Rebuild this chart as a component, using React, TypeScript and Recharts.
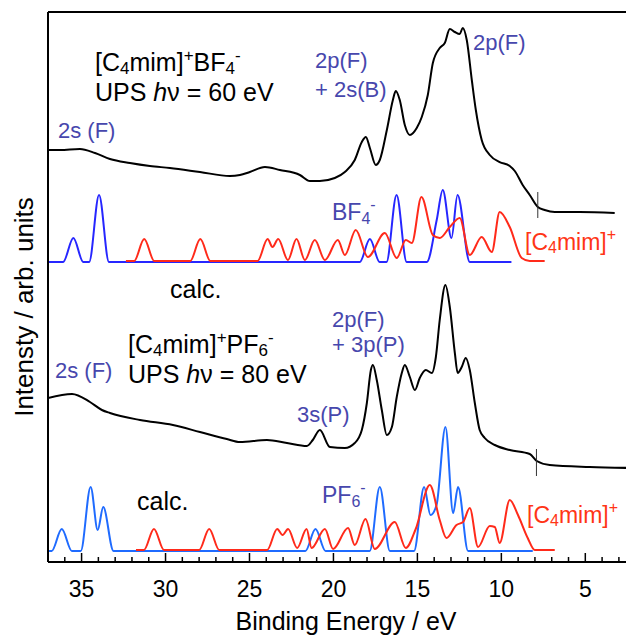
import React from 'react';
import { ComposedChart, Line, XAxis, YAxis, ReferenceLine } from 'recharts';

// [binding energy (eV), intensity (arb.)]
const bf4Exp = [
  [37.0, 412], [36.29, 412], [35.1, 413], [34.2, 409], [33.31, 403], [32.12, 399], [30.93, 396],
  [29.74, 394], [27.95, 390], [26.17, 386], [25.57, 387], [24.98, 390], [24.08, 395], [23.19, 392],
  [22.0, 387], [21.4, 381], [20.81, 381], [19.92, 384], [19.32, 390], [18.73, 402], [18.31, 420],
  [18.07, 425], [17.83, 414], [17.48, 397], [17.24, 402], [16.82, 432], [16.46, 462], [16.29, 471],
  [16.05, 462], [15.75, 437], [15.45, 427], [15.04, 434], [14.74, 445], [14.38, 467], [14.08, 499],
  [13.67, 514], [13.37, 519], [13.07, 533], [12.77, 530], [12.48, 528], [12.3, 534], [12.06, 522],
  [11.76, 482], [11.52, 452], [11.17, 422], [10.69, 407], [10.1, 400], [9.5, 396], [9.2, 391],
  [8.73, 377], [8.31, 367], [7.83, 355], [7.42, 352], [6.82, 350], [5.33, 350], [3.25, 349],
];

const bf4Anion = [
  [37.0, 300], [36.1, 300], [35.49, 324], [34.9, 300], [34.55, 300], [33.96, 367], [33.37, 300],
  [18.43, 300], [17.83, 323], [17.25, 300], [16.84, 300], [16.24, 367], [15.64, 300], [14.44, 300],
  [13.85, 342], [13.49, 372], [12.97, 324], [12.61, 367], [11.88, 300], [9.4, 300],
];

const bf4Cation = [
  [32.36, 301], [31.87, 301], [31.27, 323], [30.67, 301], [28.53, 301], [27.93, 323], [27.33, 301],
  [24.52, 301], [23.92, 323], [23.63, 315], [23.29, 323], [22.71, 302], [22.2, 323], [21.7, 302],
  [21.11, 322], [20.51, 302], [19.74, 322], [19.32, 307], [18.67, 332], [17.95, 305], [16.94, 329],
  [16.23, 304], [15.69, 322], [15.33, 319], [14.76, 365], [14.08, 327], [13.67, 324], [13.07, 335],
  [12.48, 344], [11.88, 307], [11.17, 325], [10.57, 310], [10.1, 350], [9.5, 335], [8.79, 304],
  [8.31, 301], [7.42, 301],
];

const pf6Exp = [
  [37.0, 164], [35.57, 168], [34.5, 160], [33.79, 152], [33.31, 149], [31.52, 142], [29.56, 137],
  [27.95, 130], [26.35, 123], [25.57, 120], [23.96, 122], [22.77, 119], [21.58, 116], [21.23, 122],
  [20.81, 132], [20.21, 115], [19.32, 114], [18.73, 119], [18.31, 132], [18.01, 159], [17.77, 192],
  [17.65, 197], [17.42, 182], [17.12, 152], [16.82, 127], [16.52, 135], [16.23, 165], [15.93, 189],
  [15.75, 197], [15.45, 185], [15.15, 172], [14.86, 184], [14.5, 192], [14.14, 189], [13.9, 205],
  [13.67, 242], [13.33, 277], [13.07, 255], [12.77, 209], [12.6, 189], [12.36, 195], [12.12, 204],
  [11.88, 192], [11.58, 159], [11.29, 132], [10.99, 124], [10.39, 117], [9.5, 112], [8.31, 108],
  [7.89, 101], [7.12, 97], [4.74, 95], [2.12, 94],
];

const pf6Anion = [
  [37.0, 11], [36.78, 11], [36.18, 33], [35.58, 11], [35.05, 11], [34.46, 75], [34.04, 32],
  [33.71, 55], [33.1, 11], [21.67, 11], [21.07, 33], [20.47, 11], [17.84, 11], [17.24, 75],
  [16.64, 11], [15.2, 11], [14.6, 75], [14.22, 47], [13.86, 57], [13.33, 135], [12.87, 49],
  [12.58, 75], [11.98, 11], [8.13, 11],
];

const pf6Cation = [
  [31.76, 12], [31.29, 12], [30.69, 33], [30.09, 12], [28.0, 12], [27.4, 33], [26.8, 12],
  [23.95, 12], [23.35, 33], [23.03, 27], [22.7, 33], [22.16, 14], [21.6, 33], [21.3, 14],
  [20.51, 33], [20.02, 13], [19.13, 34], [18.73, 17], [18.09, 43], [17.54, 13], [16.35, 40],
  [15.69, 14], [15.1, 33], [14.26, 77], [13.67, 42], [13.27, 24], [12.67, 37], [12.28, 40],
  [11.88, 54], [11.39, 15], [10.69, 36], [10.39, 35], [10.1, 19], [9.5, 62], [9.01, 47],
  [8.43, 24], [8.01, 12], [6.82, 12],
];

const energyTicks = [36, 35, 34, 33, 32, 31, 30, 29, 28, 27, 26, 25, 24, 23, 22, 21, 20, 19, 18,
  17, 16, 15, 14, 13, 12, 11, 10, 9, 8, 7, 6, 5, 4, 3];

const toPoints = (rows: number[][]) => rows.map(([e, v]) => ({ e, v }));

const W = 626;
const H = 629;
const FONT = '"Liberation Sans", Arial, sans-serif';
const LABEL_BLUE = '#4747ad';
const LABEL_RED = '#ff3516';

const EnergyTick = (props: any) => {
  const { x, y, payload } = props;
  const major = payload.value % 5 === 0;
  return (
    <g>
      <line x1={x} x2={x} y1={y} y2={y - (major ? 9 : 5)} stroke="#000" strokeWidth={1.5} />
      {major && (
        <text x={x} y={y + 35} textAnchor="middle" fontSize={23} fontFamily={FONT} fill="#000">
          {payload.value}
        </text>
      )}
    </g>
  );
};

// "[C4mim]+" with optional anion, e.g. BF4- / PF6-
const Ion = ({ x, y, size, fill, anion, n }: {
  x: number; y: number; size: number; fill: string; anion?: string; n?: string;
}) => {
  const s = Math.round(size * 0.68);
  return (
    <text x={x} y={y} fontSize={size} fill={fill}>
      [C<tspan fontSize={s} dy={3}>4</tspan><tspan dy={-3}>mim]</tspan>
      <tspan fontSize={s} dy={-10}>+</tspan>
      {anion && (
        <>
          <tspan dy={10}>{anion}</tspan>
          <tspan fontSize={s} dy={3}>{n}</tspan>
          <tspan fontSize={s} dy={-13}>-</tspan>
        </>
      )}
    </text>
  );
};

const Anion = ({ x, y, name, n }: { x: number; y: number; name: string; n: string }) => (
  <text x={x} y={y} fontSize={23} fill={LABEL_BLUE}>
    {name}<tspan fontSize={16} dy={4}>{n}</tspan><tspan fontSize={16} dy={-14}>-</tspan>
  </text>
);

const Annotations = () => (
  <svg width={W} height={H} style={{ position: 'absolute', left: 0, top: 0, pointerEvents: 'none' }}
    fontFamily={FONT}>
    {/* BF4 panel */}
    <Ion x={87} y={63} size={25} fill="#000" anion="BF" n="4" />
    <text x={87} y={93} fontSize={25} fill="#000">
      UPS <tspan fontStyle="italic">h</tspan>ν = 60 eV
    </text>
    <text x={50} y={130} fontSize={22} fill={LABEL_BLUE}>2s (F)</text>
    <text x={307} y={60} fontSize={22} fill={LABEL_BLUE}>2p(F)</text>
    <text x={307} y={89} fontSize={22} fill={LABEL_BLUE}>+ 2s(B)</text>
    <text x={465} y={42} fontSize={22} fill={LABEL_BLUE}>2p(F)</text>
    <Anion x={324} y={212} name="BF" n="4" />
    <Ion x={517} y={242} size={23} fill={LABEL_RED} />
    <text x={162} y={290} fontSize={25} fill="#000">calc.</text>

    {/* PF6 panel */}
    <Ion x={120} y={345} size={25} fill="#000" anion="PF" n="6" />
    <text x={120} y={375} fontSize={25} fill="#000">
      UPS <tspan fontStyle="italic">h</tspan>ν = 80 eV
    </text>
    <text x={47} y={370} fontSize={22} fill={LABEL_BLUE}>2s (F)</text>
    <text x={324} y={319} fontSize={22} fill={LABEL_BLUE}>2p(F)</text>
    <text x={324} y={344} fontSize={22} fill={LABEL_BLUE}>+ 3p(P)</text>
    <text x={289} y={414} fontSize={22} fill={LABEL_BLUE}>3s(P)</text>
    <text x={129} y={502} fontSize={25} fill="#000">calc.</text>
    <Anion x={314} y={495} name="PF" n="6" />
    <Ion x={519} y={515} size={23} fill={LABEL_RED} />

    {/* axis titles */}
    <text x={25} y={299} fontSize={26} fill="#000" textAnchor="middle" transform="rotate(-90 25 299)">
      Intensty / arb. units
    </text>
    <text x={338} y={622} fontSize={25} fill="#000" textAnchor="middle">Binding Energy / eV</text>
  </svg>
);

export default function App() {
  const lineProps = { type: 'monotone' as const, dataKey: 'v', dot: false, activeDot: false, isAnimationActive: false };
  return (
    <div style={{ position: 'relative', width: W, height: H }}>
      <ComposedChart width={W} height={H} margin={{ top: 4, right: 0, bottom: 0, left: 0 }}>
        <XAxis
          type="number"
          dataKey="e"
          domain={[2.1, 37]}
          reversed
          allowDataOverflow
          ticks={energyTicks}
          interval={0}
          tick={<EnergyTick />}
          tickSize={0}
          tickMargin={0}
          height={75}
          axisLine={{ stroke: '#000', strokeWidth: 2 }}
        />
        <YAxis
          type="number"
          domain={[0, 550]}
          allowDataOverflow
          tick={false}
          tickLine={false}
          width={40}
          axisLine={{ stroke: '#000', strokeWidth: 2 }}
        />
        <ReferenceLine y={550} stroke="#000" strokeWidth={2} />

        <Line {...lineProps} data={toPoints(bf4Exp)} stroke="#000" strokeWidth={2} />
        <Line {...lineProps} data={toPoints(bf4Anion)} stroke="#2626ff" strokeWidth={2} />
        <Line {...lineProps} data={toPoints(bf4Cation)} stroke="#ff2a1a" strokeWidth={2} />
        <ReferenceLine segment={[{ x: 7.83, y: 344 }, { x: 7.83, y: 370 }]} stroke="#333" strokeWidth={1} />

        <Line {...lineProps} data={toPoints(pf6Exp)} stroke="#000" strokeWidth={2} />
        <Line {...lineProps} data={toPoints(pf6Anion)} stroke="#1f6bff" strokeWidth={2} />
        <Line {...lineProps} data={toPoints(pf6Cation)} stroke="#ff2a1a" strokeWidth={2} />
        <ReferenceLine segment={[{ x: 7.91, y: 86 }, { x: 7.91, y: 113 }]} stroke="#333" strokeWidth={1} />
      </ComposedChart>
      <Annotations />
    </div>
  );
}
